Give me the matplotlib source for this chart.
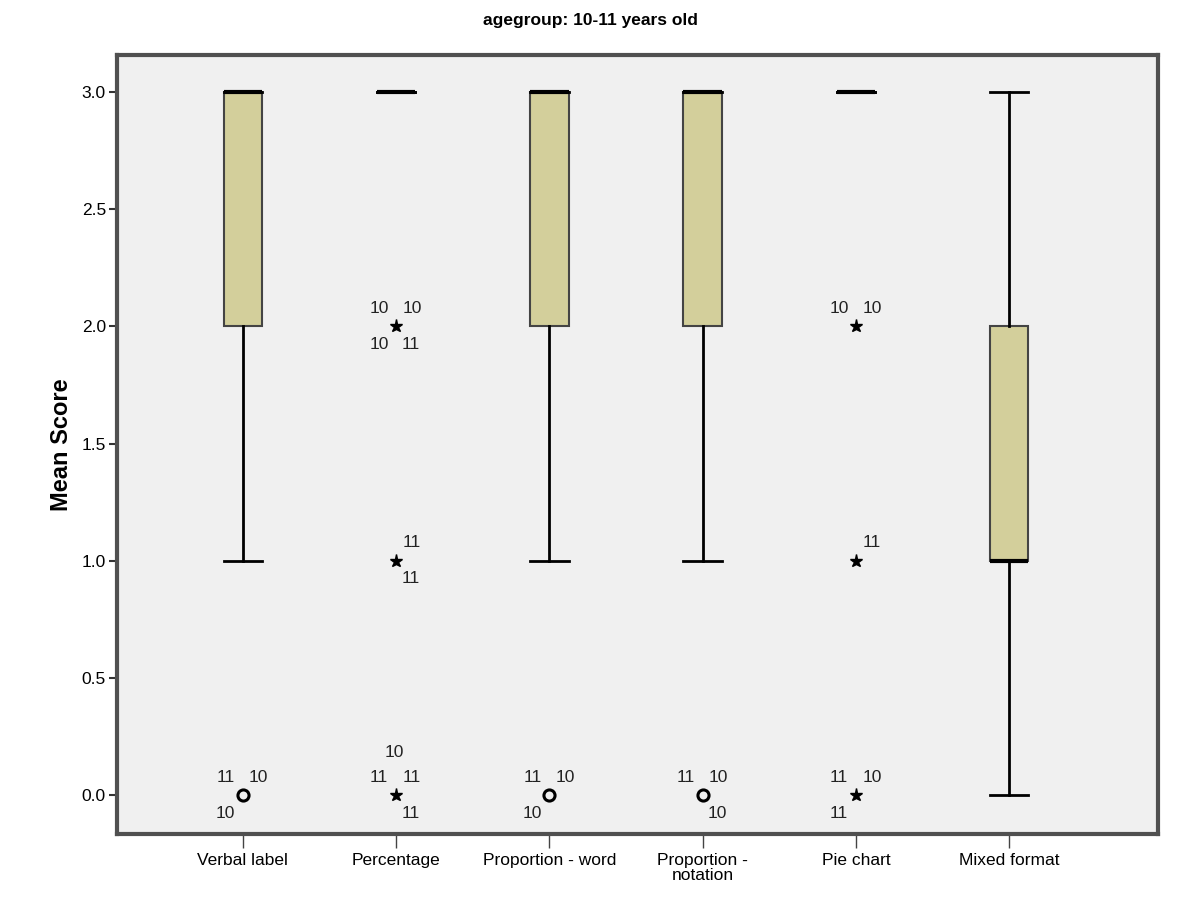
import matplotlib
matplotlib.use("Agg")
import matplotlib.pyplot as plt

plt.rcParams['font.family'] = ['Liberation Sans', 'DejaVu Sans']

categories = ["Verbal label", "Percentage", "Proportion - word",
              "Proportion -\nnotation", "Pie chart", "Mixed format"]
q1 = [2, 3, 2, 2, 3, 1]
med = [3, 3, 3, 3, 3, 1]
q3 = [3, 3, 3, 3, 3, 2]
whislo = [1, 3, 1, 1, 3, 0]
whishi = [3, 3, 3, 3, 3, 3]

# outliers: category index, value, kind ('o' outlier, '*' extreme), case labels
out_cat = [0, 1, 1, 1, 2, 3, 4, 4, 4]
out_val = [0, 2, 1, 0, 0, 0, 2, 1, 0]
out_kind = ['o', '*', '*', '*', 'o', 'o', '*', '*', '*']
out_labels = [
    [("11", "ul"), ("10", "ur"), ("10", "ll")],
    [("10", "ul"), ("10", "ur"), ("10", "ll"), ("11", "lr")],
    [("11", "ur"), ("11", "lr")],
    [("10", "top"), ("11", "ul"), ("11", "ur"), ("11", "lr")],
    [("11", "ul"), ("10", "ur"), ("10", "ll")],
    [("11", "ul"), ("10", "ur"), ("10", "lr")],
    [("10", "ul"), ("10", "ur")],
    [("11", "ur")],
    [("11", "ul"), ("10", "ur"), ("11", "ll")],
]

# label offsets in pixels (dx, dy), screen coordinates
label_offset = {"ul": (-17, 18), "ur": (16, 18), "ll": (-17, -18),
                "lr": (15, -18), "top": (-2, 43)}

fig = plt.figure(figsize=(12, 8.98), dpi=100)
ax = fig.add_axes([0.0975, 0.0713, 0.8675, 0.8675])
ax.set_facecolor("#f0f0f0")

stats = []
for i in range(len(categories)):
    stats.append({"q1": q1[i], "med": med[i], "q3": q3[i],
                  "whislo": whislo[i], "whishi": whishi[i], "fliers": []})

pos = list(range(len(categories)))
bw = 0.25
ax.bxp(stats, positions=pos, widths=bw, capwidths=bw, patch_artist=True,
       showfliers=False,
       boxprops=dict(facecolor="#d3cf9b", edgecolor="#444444", linewidth=1.5),
       medianprops=dict(color="black", linewidth=3, solid_capstyle="butt"),
       whiskerprops=dict(color="black", linewidth=2),
       capprops=dict(color="black", linewidth=2))

px2pt = 72 / 100
for c, v, k, labs in zip(out_cat, out_val, out_kind, out_labels):
    if k == 'o':
        ax.plot(c, v, 'o', ms=8, mfc="none", mec="black", mew=2.2)
    else:
        ax.plot(c, v, '*', ms=9.5, color="black")
    for txt, where in labs:
        dx, dy = label_offset[where]
        ax.annotate(txt, (c, v), xytext=(dx * px2pt, dy * px2pt),
                    textcoords="offset points", ha="center", va="center",
                    fontsize=12.5, color="#222222")

ax.set_xlim(-0.82, 5.97)
ax.set_ylim(-0.166, 3.158)
ax.set_xticks(pos)
ax.set_xticklabels(categories, fontsize=12.5, linespacing=0.95)
ax.set_yticks([0, 0.5, 1.0, 1.5, 2.0, 2.5, 3.0])
ax.set_yticklabels(["0.0", "0.5", "1.0", "1.5", "2.0", "2.5", "3.0"], fontsize=12.5)
ax.tick_params(axis="x", length=10, width=1, color="#444444", pad=4)
ax.tick_params(axis="y", length=6, width=1.5, color="#333333", pad=2)
for s in ax.spines.values():
    s.set_color("#505050")
    s.set_linewidth(3)

ax.set_ylabel("Mean Score", fontsize=17, fontweight="bold", labelpad=6)
fig.text(0.492, 0.985, "agegroup: 10-11 years old", ha="center", va="top",
         fontsize=12.5, fontweight="bold",
         family=["Liberation Sans Narrow", "Liberation Sans", "DejaVu Sans"])

fig.savefig("out.png", dpi=100, facecolor="white")
